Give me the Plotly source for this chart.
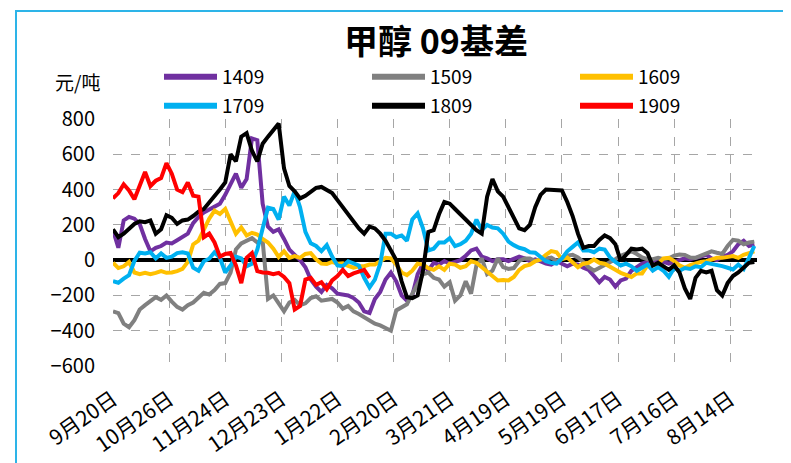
import plotly.graph_objects as go

# ---- data (values every 2 trading days, starting at 9月20日) ----
tick_labels = ["9月20日", "10月26日", "11月24日", "12月23日", "1月22日", "2月20日",
               "3月21日", "4月19日", "5月19日", "6月17日", "7月16日", "8月14日"]
tick_step = 21   # trading days between labels
sample_step = 2  # trading days between values

s1409 = [170, 70, 225, 245, 235, 205, 120, 50, 70, 80,
         100, 95, 113, 130, 150, 210, 245, 270, 285, 300,
         320, 370, 430, 490, 410, 460, 690, 680, 320, 190,
         160, 175, 120, 60, 30, 0, -40, -110, -150, -180,
         -140, -160, -190, -195, -200, -215, -240, -290, -300, -220,
         -180, -110, -70, -120, -200, -230, -200, -80, -20, -60,
         -15, -25, -5, -20, -10, 0, 25, 55, 65, 20,
         10, -5, 5, 5, -5, 5, 20, 10, -5, 5,
         -10, -20, -25, -5, -20, -35, -20, -25, -43, -55,
         -90, -125, -95, -110, -150, -115, -105, -60, -40, -20,
         -10, -5, 0, -10, -20, -10, 0, 10, 5, 10,
         20, 30, 10, 0, 20, 30, 50, 90, 110, 80,
         90]

s1509 = [-290, -300, -360, -380, -340, -280, -255, -230, -210, -225,
         -200, -235, -265, -280, -255, -240, -215, -185, -195, -170,
         -135, -130, -70, 60, 95, 113, 125, 100, 110, -220,
         -200, -245, -290, -240, -225, -255, -245, -215, -205, -230,
         -225, -220, -240, -275, -260, -290, -305, -325, -345, -360,
         -370, -385, -400, -285, -270, -250, -190, -130, -80, -70,
         -100, -110, -150, -125, -230, -200, -120, -190, -30, 10,
         -80, -60, 10, -40, -50, -45, -5, 10, 10, -5,
         5, 10, 15, -5, 10, 25, 30, 15, -10, -40,
         -60, -45, -25, -15, 5, 25, 40, 50, 35, 15,
         5, 5, 13, 5, 10, 25, 32, 30, 15, 13,
         25, 40, 50, 42, 35, 80, 115, 110, 90, 100,
         105]

s1609 = [-15, -45, -35, -10, -70, -80, -72, -80, -72, -62,
         -72, -70, -62, -50, -10, 89, 110, 170, 235, 280,
         262, 290, 220, 150, 185, 140, 155, 145, 120, 100,
         65, 18, 50, 13, 23, 13, 35, 40, 5, -20,
         -22, -10, -20, -18, -32, -43, -35, -34, -25, -25,
         -6, 13, 10, -25, -70, -85, -60, -20, -25, -45,
         -55, -35, -55, -20, -25, -43, -34, -6, -15, -40,
         -60, -90, -115, -112, -115, -95, -55, -34, -25, -6,
         4, 30, 51, 45, 5, 15, -10, -40, -20, -15,
         4, -15, -20, -35, -55, -72, -81, -95, -75, -75,
         -30, -30, -20, 10, 13, -5, -30, -43, -28, -18,
         -10, -6, 4, 13, 13, 18, 23, 13, 30, 40,
         50]

s1709 = [-119, -128, -105, -85, -5, 42, 38, 45, 10, 38,
         13, 20, 40, 45, 38, -43, -60, -6, 8, 45,
         13, -70, -30, 20, 10, -34, -20, 60, 180, 297,
         290, 230, 360, 310, 391, 300, 160, 95, 80, 51,
         85, 20, -30, -34, -6, -20, -30, -100, -155, -110,
         -20, 150, 150, 130, 140, 110, 230, 265, 180, 55,
         65, 100, 100, 125, 80, 90, 110, 150, 230, 170,
         200, 185, 180, 150, 105, 85, 70, 62, 45, 42,
         15, -6, -15, -20, 10, 50, 75, 100, 55, 55,
         45, 65, 60, 15, -10, -30, -20, -35, -60, -45,
         -25, -60, -40, -60, -95, -45, -60, -45, -50, -35,
         -40, -15, -20, -30, -34, -43, -53, -25, -50, 13,
         80]

s1809 = [175, 130, 150, 180, 205, 220, 215, 225, 150, 175,
         255, 240, 205, 225, 230, 250, 275, 290, 325, 360,
         400, 440, 600, 560, 700, 720, 620, 560, 660, 700,
         740, 775, 520, 420, 390, 350, 365, 390, 410, 415,
         400, 380, 340, 300, 265, 225, 180, 150, 190, 180,
         150, 110, 60, 0, -120, -210, -215, -200, -60, 160,
         170, 260, 330, 320, 290, 260, 230, 200, 170, 150,
         360, 460, 390, 360, 300, 240, 180, 170, 200, 300,
         370, 400, 400, 400, 395, 330, 250, 150, 70, 80,
         80, 115, 140, 125, 90, -5, 30, 65, 60, 65,
         40, -30, -15, -35, -55, -30, -70, -160, -220, -100,
         -60, -70, -60, -170, -200, -130, -90, -70, -45, -15,
         -10]

s1909 = [350, 380, 430, 395, 345, 420, 500, 420, 450, 465,
         550, 490, 400, 385, 440, 365, 360, 130, 150, 100,
         20, 35, 40, -30, -130, 13, 40, -62, -70, -72,
         -80, -72, -95, -130, -280, -260, -110, -100, -140, -125,
         -165, -115, -90, -55, -90, -75, -62, -55, -100]

series = [("1409", s1409, "#7030A0"),
          ("1509", s1509, "#808080"),
          ("1609", s1609, "#FFC000"),
          ("1709", s1709, "#00B0F0"),
          ("1809", s1809, "#000000"),
          ("1909", s1909, "#FF0000")]

FONT = "Noto Sans CJK SC"

fig = go.Figure()
for name, vals, color in series:
    fig.add_trace(go.Scatter(
        x=[i * sample_step for i in range(len(vals))],
        y=vals, name=name, mode="lines", showlegend=False,
        line=dict(color=color, width=4)))
# legend entries (thicker sample lines, two rows of three)
for k, (name, vals, color) in enumerate(series):
    fig.add_trace(go.Scatter(
        x=[None], y=[None], name=name, mode="lines",
        legend="legend" if k < 3 else "legend2",
        line=dict(color=color, width=6)))

# page body has an 8px margin, so figure coords = screen coords - 8
W, H = 783, 455
L, R, T, B = 105, 34, 111, 97
pw, ph = W - L - R, H - T - B

def px_x(p):
    return (p - L) / pw

def px_y(p):
    return (H - B - p) / ph

leg_common = dict(orientation="h", xref="container", yref="container",
                  xanchor="left", yanchor="top",
                  entrywidth=140, entrywidthmode="pixels",
                  itemwidth=53, font=dict(family=FONT, size=19),
                  bgcolor="rgba(0,0,0,0)", traceorder="normal")

fig.update_layout(
    width=W, height=H,
    margin=dict(l=L, r=R, t=T, b=B, autoexpand=False),
    paper_bgcolor="white", plot_bgcolor="white",
    font=dict(family=FONT, size=18, color="black"),
    title=dict(text="<b>甲醇 09基差</b>", x=428 / W, xanchor="center",
               y=1 - 34 / H, yanchor="middle",
               font=dict(family=FONT, size=34, color="black")),
    showlegend=True,
    legend=dict(x=151 / W, y=1 - 50 / H, **leg_common),
    legend2=dict(x=151 / W, y=1 - 79 / H, **leg_common),
    xaxis=dict(range=[0, 241], tickmode="array",
               tickvals=[i * tick_step for i in range(len(tick_labels))],
               ticktext=tick_labels, tickangle=-35,
               showgrid=True, gridcolor="#A6A6A6", griddash="dash", gridwidth=1,
               zeroline=False, showline=False, ticks="",
               ticklabelstandoff=16,
               tickfont=dict(family=FONT, size=21)),
    yaxis=dict(range=[-600, 800], tickmode="array",
               tickvals=[-600, -400, -200, 0, 200, 400, 600, 800],
               showgrid=True, gridcolor="#A6A6A6", griddash="dash", gridwidth=1,
               zeroline=True, zerolinecolor="black", zerolinewidth=4,
               showline=False, ticks="", ticklabelstandoff=17,
               tickfont=dict(family=FONT, size=20)),
)

fig.add_annotation(text="元/吨", xref="paper", yref="paper",
                   x=px_x(69), y=px_y(73), showarrow=False,
                   xanchor="center", yanchor="middle",
                   font=dict(family=FONT, size=19, color="black"))

fig.add_shape(type="rect", xref="paper", yref="paper",
              x0=px_x(8), x1=px_x(820), y0=px_y(490), y1=px_y(3),
              line=dict(color="#2DB4E8", width=2), fillcolor="rgba(0,0,0,0)",
              layer="below")

fig.write_html("out.html")
